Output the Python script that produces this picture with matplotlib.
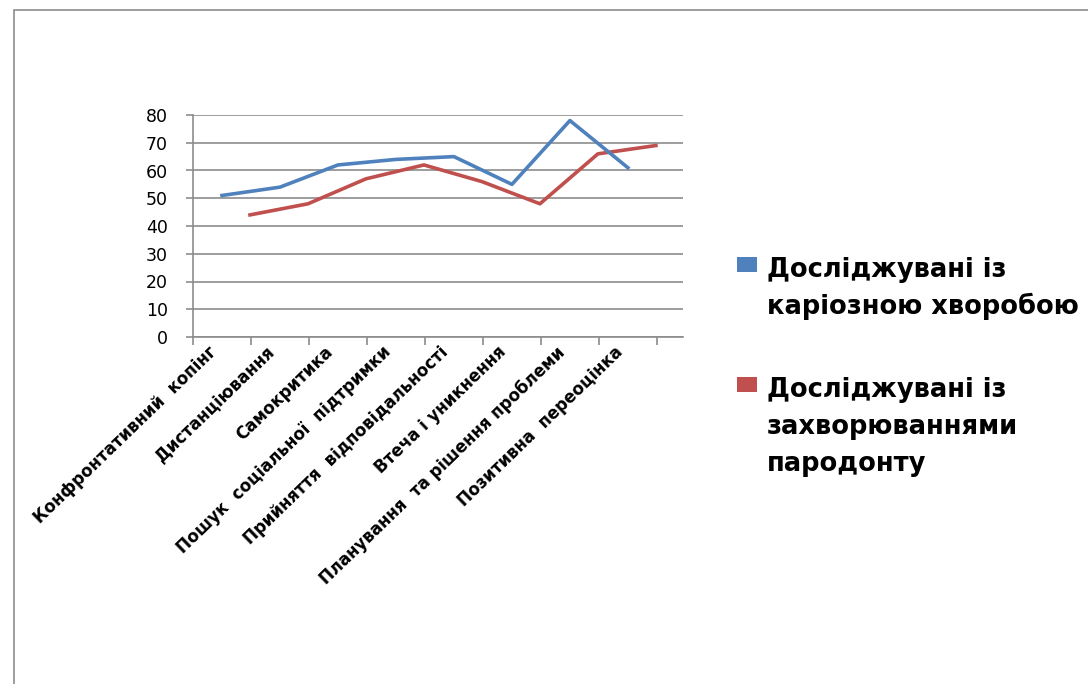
import matplotlib.pyplot as plt
import matplotlib.transforms as mtransforms
from matplotlib.patches import Rectangle
import numpy as np

# дані
categories = ['Конфронтативний  копінг', 'Дистанціювання', 'Самокритика',
              'Пошук  соціальної  підтримки', 'Прийняття  відповідальності',
              'Втеча і уникнення', 'Планування  та рішення проблеми',
              'Позитивна  переоцінка']
caries = [51, 54, 62, 64, 65, 55, 78, 61]
periodont = [44, 48, 57, 62, 56, 48, 66, 69]
series_names = [['Досліджувані із', 'каріозною хворобою'],
                ['Досліджувані із', 'захворюваннями', 'пародонту']]
y_ticks = [0, 10, 20, 30, 40, 50, 60, 70, 80]

blue = '#4F81BD'
red = '#C0504D'
grid_c = '#8C8C8C'

plt.rcParams['font.family'] = ['DejaVu Sans']

fig = plt.figure(figsize=(10.88, 6.84), dpi=100)
W, H = 1088, 684

# рамка області діаграми
fig.add_artist(Rectangle((14 / W, -0.1), 1.2, 1 - 10 / H + 0.1, transform=fig.transFigure,
                         fill=False, edgecolor='#8C8C8C', linewidth=1.2))

ax = fig.add_axes([193 / W, (H - 337) / H, 490 / W, (337 - 115) / H])
x = np.arange(len(categories))

ax.set_ylim(0, 80)
ax.set_xlim(-0.5, 7.95)
ax.set_yticks(y_ticks)
ax.yaxis.grid(True, color=grid_c, linewidth=1.2)
ax.set_axisbelow(True)

ax.plot(x, caries, color=blue, linewidth=2.6, solid_joinstyle='round', zorder=3)
# задня серія трохи зсунута вправо (ефект глибини)
shift = mtransforms.ScaledTranslation(28 / 100, 0, fig.dpi_scale_trans)
ax.plot(x, periodont, color=red, linewidth=2.6, solid_joinstyle='round', zorder=2,
        transform=ax.transData + shift)

for s in ['top', 'right']:
    ax.spines[s].set_visible(False)
ax.spines['left'].set_color(grid_c)
ax.spines['bottom'].set_color(grid_c)
ax.spines['left'].set_linewidth(1.2)
ax.spines['bottom'].set_linewidth(1.2)

ax.tick_params(axis='y', length=5, color=grid_c, width=1.2, labelsize=12.5, pad=13)
ax.set_xticks(np.arange(len(categories) + 1) - 0.5, minor=True)
ax.set_xticks(x)
ax.set_xticklabels(categories, rotation=44, ha='right', va='center', rotation_mode='anchor',
                   fontsize=12, fontweight='bold')
ax.tick_params(axis='x', which='major', length=0, pad=9)
ax.tick_params(axis='x', which='minor', length=6, color=grid_c, width=1.2)
lab_shift = mtransforms.ScaledTranslation(-8 / 100, 0, fig.dpi_scale_trans)
for lab in ax.get_xticklabels():
    lab.set_transform(lab.get_transform() + lab_shift)

# легенда
colors = [blue, red]
first_base = [277, 397]
pitch = 37
for i in range(len(series_names)):
    fig.add_artist(Rectangle((737 / W, (H - first_base[i] + 5) / H), 20 / W, 15 / H,
                             transform=fig.transFigure, facecolor=colors[i], edgecolor='none'))
    for k, line in enumerate(series_names[i]):
        fig.text(767 / W, (H - first_base[i] - k * pitch) / H, line, fontsize=18.5,
                 fontweight='bold', ha='left', va='baseline')

fig.savefig('out.png', dpi=100)
